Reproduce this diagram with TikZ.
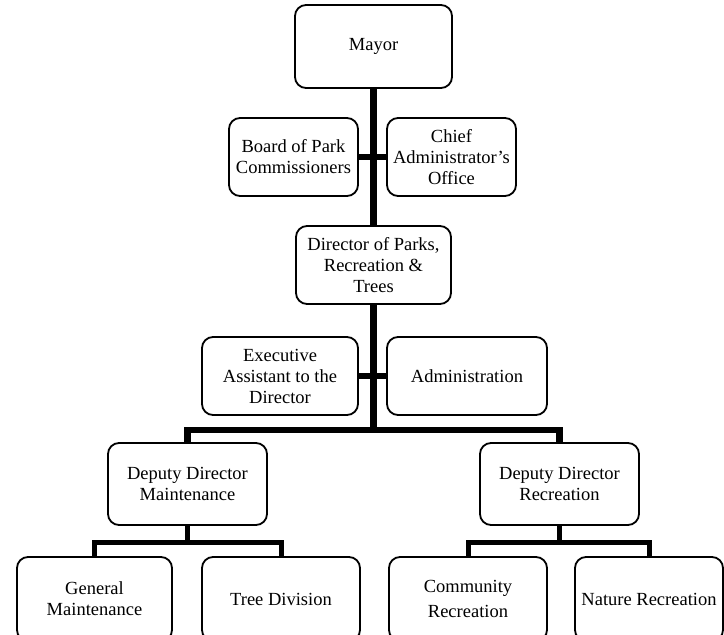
\documentclass[tikz,border=0pt]{standalone}
\usepackage{fontspec}
\setmainfont{Liberation Serif}
\begin{document}
\begin{tikzpicture}[x=1pt,y=1pt,
  unit/.style={draw=black, line width=1.8pt, rounded corners=11pt, fill=white,
    align=center, inner sep=2pt,
    font=\fontsize{18.5}{21}\selectfont},
  trunk/.style={line width=6.5pt, line join=miter},
  branch/.style={line width=5pt, line join=miter}]
\useasboundingbox (0,0) rectangle (724,-635);
\clip (0,0) rectangle (724,-635);

% top of the chart
\node[unit, minimum width=157, minimum height=83] (mayor) at (373.5,-46.5) {Mayor};
\node[unit, minimum width=129, minimum height=78] (board) at (293.5,-157) {Board of Park\\Commissioners};
\node[unit, minimum width=129, minimum height=78] (chief) at (451.5,-157) {Chief\\Administrator’s\\Office};
\node[unit, minimum width=155, minimum height=78] (director) at (373.5,-265) {Director of Parks,\\Recreation \&\\Trees};
\node[unit, minimum width=156, minimum height=78] (exec) at (280,-376) {Executive\\Assistant to the\\Director};
\node[unit, minimum width=160, minimum height=78] (admin) at (467,-376) {Administration};

% deputies
\node[unit, minimum width=159, minimum height=82] (depm) at (187.5,-484) {Deputy Director\\Maintenance};
\node[unit, minimum width=159, minimum height=82] (depr) at (559.5,-484) {Deputy Director\\Recreation};

% divisions
\node[unit, minimum width=155, minimum height=84] (genm) at (94.5,-599) {General\\Maintenance};
\node[unit, minimum width=158, minimum height=84] (tree) at (281,-599) {Tree Division};
\node[unit, minimum width=158, minimum height=84] (comm) at (468,-599) {Community\\[4pt]Recreation};
\node[unit, minimum width=148, minimum height=84] (nature) at (649,-599) {Nature Recreation};

% junction points of the bars
\coordinate (busM) at (373.5,-430);
\coordinate (busL) at (187.5,-542);
\coordinate (busR) at (559.5,-542);

% connectors
\draw[trunk] (mayor.south) -- (director.north);
\draw[trunk] (board.east) -- (chief.west);
\draw[trunk] (director.south) -- (busM);
\draw[trunk] (exec.east) -- (admin.west);
\draw[trunk] (depm.north) |- (busM) -| (depr.north);
\draw[branch] (depm.south) -- (busL);
\draw[branch] (genm.north) |- (busL) -| (tree.north);
\draw[branch] (depr.south) -- (busR);
\draw[branch] (comm.north) |- (busR) -| (nature.north);
\end{tikzpicture}
\end{document}
